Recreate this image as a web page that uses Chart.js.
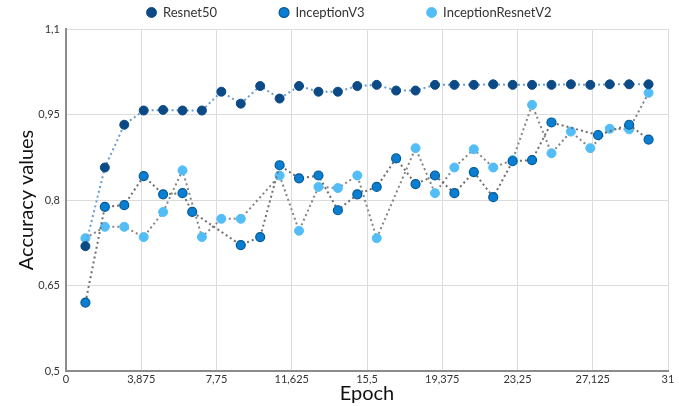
<!DOCTYPE html>
<html>
<head>
<meta charset="utf-8">
<script src="https://cdn.jsdelivr.net/npm/chart.js@4.4.1/dist/chart.umd.min.js"></script>
<style>
  html, body { margin: 0; padding: 0; background: #fff; }
  #wrap { width: 679px; height: 406px; }
</style>
</head>
<body>
<div id="wrap"><canvas id="accChart"></canvas></div>
<script>
//---------------------------- DATA ----------------------------//
const resnetEpochs = [1,2,3,4,5,6,7,8,9,10,11,12,13,14,15,16,17,18,19,20,21,22,23,24,25,26,27,28,29,30];
const resnetAcc = [0.719,0.857,0.932,0.957,0.958,0.957,0.957,0.990,0.969,1.000,0.978,1.000,0.990,0.990,1.000,1.002,0.992,0.992,1.002,1.002,1.002,1.003,1.002,1.002,1.002,1.003,1.002,1.003,1.003,1.003];

const inceptionV3Epochs = [1,2,3,4,5,6,6.5,9,10,11,12,13,14,15,16,17,18,19,20,21,22,23,24,25,27.4,29,30];
const inceptionV3Acc = [0.620,0.788,0.791,0.842,0.810,0.812,0.779,0.721,0.735,0.861,0.838,0.843,0.782,0.810,0.823,0.873,0.828,0.843,0.812,0.849,0.805,0.868,0.870,0.936,0.914,0.932,0.906];

const incResV2Epochs = [1,2,3,4,5,6,7,8,9,11,12,13,14,15,16,18,19,20,21,22,23,24,25,26,27,28,29,30];
const incResV2Acc = [0.733,0.753,0.753,0.735,0.779,0.852,0.735,0.767,0.767,0.843,0.746,0.823,0.821,0.843,0.733,0.891,0.812,0.857,0.889,0.857,0.870,0.967,0.882,0.920,0.891,0.925,0.924,0.988];

const xTicks = [0,3.875,7.75,11.625,15.5,19.375,23.25,27.125,31];
const yTicks = [0.5,0.65,0.8,0.95,1.1];

//--------------------------- HELPERS --------------------------//
function toPoints(xs, ys) {
    return xs.map((x, i) => ({ x: x, y: ys[i] }));
}
function commaLabel(v) {
    return String(v).replace('.', ',');
}

//---------------------------- CHART ---------------------------//
const ctx = document.getElementById('accChart').getContext('2d');
const chart = new Chart(ctx, {
    type: 'scatter',
    data: {
        datasets: [
            {
                label: 'Resnet50',
                data: toPoints(resnetEpochs, resnetAcc),
                showLine: true,
                borderColor: '#6b9ccc',
                borderWidth: 2,
                borderDash: [2, 3],
                backgroundColor: '#0b4a84',
                pointBackgroundColor: '#0b4a84',
                pointBorderColor: '#0b4a84',
                pointBorderWidth: 1,
                pointRadius: 4.5
            },
            {
                label: 'InceptionV3',
                data: toPoints(inceptionV3Epochs, inceptionV3Acc),
                showLine: true,
                borderColor: '#6e6e6e',
                borderWidth: 2,
                borderDash: [2, 3],
                backgroundColor: '#0a7ed0',
                pointBackgroundColor: '#0a7ed0',
                pointBorderColor: '#055a98',
                pointBorderWidth: 1.2,
                pointRadius: 4.5
            },
            {
                label: 'InceptionResnetV2',
                data: toPoints(incResV2Epochs, incResV2Acc),
                showLine: true,
                borderColor: '#858585',
                borderWidth: 2,
                borderDash: [2, 3],
                backgroundColor: '#52bdf6',
                pointBackgroundColor: '#52bdf6',
                pointBorderColor: '#52bdf6',
                pointBorderWidth: 1,
                pointRadius: 4.5
            }
        ]
    },
    options: {
        responsive: true,
        maintainAspectRatio: false,
        animation: false,
        // negative top padding pulls the wide-spaced legend up to the edge
        layout: { padding: { left: 30, right: 11, top: -56, bottom: 0 } },
        plugins: {
            legend: {
                position: 'top',
                labels: {
                    usePointStyle: true,
                    pointStyle: 'circle',
                    boxWidth: 10,
                    boxHeight: 7,
                    padding: 62,
                    color: '#333',
                    font: { family: 'Lato', size: 13 }
                }
            },
            tooltip: { enabled: false }
        },
        scales: {
            x: {
                type: 'linear',
                min: 0,
                max: 31,
                afterBuildTicks: (scale) => { scale.ticks = xTicks.map(v => ({ value: v })); },
                afterFit: (scale) => { scale.height = 35; },
                ticks: {
                    callback: (v) => commaLabel(v),
                    color: '#333',
                    padding: 2,
                    maxRotation: 0,
                    font: { family: 'Lato', size: 11 }
                },
                grid: { color: '#dcdcdc', drawTicks: false },
                border: { color: '#8c8c8c', width: 2 },
                title: {
                    display: true,
                    text: 'Epoch',
                    color: '#111',
                    padding: { top: 0, bottom: 0 },
                    font: { family: 'Lato', size: 20 }
                }
            },
            y: {
                type: 'linear',
                min: 0.5,
                max: 1.1,
                afterBuildTicks: (scale) => { scale.ticks = yTicks.map(v => ({ value: v })); },
                afterFit: (scale) => { scale.width = 36; },
                ticks: {
                    callback: (v) => commaLabel(v),
                    color: '#333',
                    padding: 6,
                    font: { family: 'Lato', size: 11 }
                },
                grid: { color: '#dcdcdc', drawTicks: false },
                border: { color: '#8c8c8c', width: 2 },
                title: {
                    display: true,
                    text: 'Accuracy values',
                    color: '#111',
                    padding: { top: -15, bottom: 0 },
                    font: { family: 'Lato', size: 20 }
                }
            }
        }
    }
});
</script>
</body>
</html>
